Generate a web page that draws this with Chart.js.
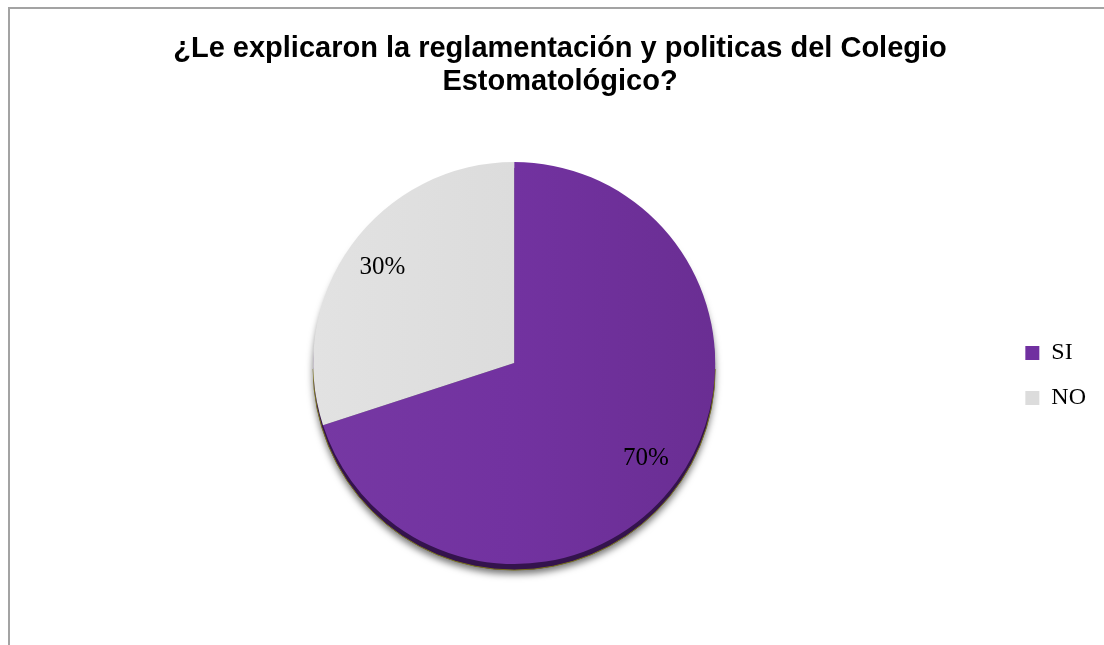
<!DOCTYPE html>
<html lang="es">
<head>
<meta charset="utf-8">
<title>Reglamentación y políticas del Colegio Estomatológico</title>
<script src="https://cdn.jsdelivr.net/npm/chart.js@4.4.1/dist/chart.umd.min.js"></script>
<style>
  html, body { margin: 0; padding: 0; background: #ffffff; overflow: hidden; }
  body { width: 1104px; height: 645px; position: relative; }
  #frame {
    position: absolute; left: 8px; top: 7px;
    width: 1110px; height: 650px;
    border-left: 2px solid #a3a3a3; border-top: 2px solid #a3a3a3;
    box-sizing: border-box;
  }
  #chart { position: absolute; left: 0; top: 0; }
</style>
</head>
<body>
<div id="frame"><canvas id="chart" width="1100" height="636"></canvas></div>
<script>
// Survey answers and their share of responses (percent)
const categories = ['SI', 'NO'];
const percentages = [70, 30];
const titleLines = ['¿Le explicaron la reglamentación y politicas del Colegio', 'Estomatológico?'];

const sliceColors = ['#7030A0', '#DCDCDC'];

// Soft left-to-right shading across the pie face
function sliceFill(context) {
  const i = context.dataIndex;
  const chart = context.chart;
  const area = chart.chartArea;
  if (!area) return sliceColors[i];
  const cx = (area.left + area.right) / 2;
  const r = 201;
  const g = chart.ctx.createLinearGradient(cx - r, 0, cx + r, 0);
  if (i === 0) {
    g.addColorStop(0, '#7638A3');
    g.addColorStop(0.5, '#7232A0');
    g.addColorStop(1, '#6A2E93');
  } else {
    g.addColorStop(0, '#E2E2E2');
    g.addColorStop(1, '#D6D6D6');
  }
  return g;
}

// Dark rim and drop shadow under the pie
const pieBase = {
  id: 'pieBase',
  beforeDatasetsDraw(chart) {
    const meta = chart.getDatasetMeta(0);
    const arc = meta.data[0];
    if (!arc) return;
    const {x, y, outerRadius} = arc.getProps(['x', 'y', 'outerRadius'], true);
    const ctx = chart.ctx;
    ctx.save();
    ctx.shadowColor = 'rgba(0,0,0,0.55)';
    ctx.shadowBlur = 7;
    ctx.shadowOffsetY = 4;
    ctx.beginPath();
    ctx.arc(x, y + 6, outerRadius, 0, Math.PI * 2);
    ctx.fillStyle = '#34134d';
    ctx.fill();
    ctx.restore();
    ctx.save();
    ctx.beginPath();
    ctx.arc(x, y + 6, outerRadius, 0, Math.PI);
    ctx.strokeStyle = '#77701c';
    ctx.lineWidth = 1;
    ctx.stroke();
    ctx.restore();
  }
};

// Percentage labels placed inside each slice
const sliceLabels = {
  id: 'sliceLabels',
  afterDatasetsDraw(chart) {
    const meta = chart.getDatasetMeta(0);
    const ctx = chart.ctx;
    ctx.save();
    ctx.font = '25px "Liberation Serif", "Times New Roman", serif';
    ctx.fillStyle = '#000000';
    ctx.textAlign = 'center';
    ctx.textBaseline = 'middle';
    meta.data.forEach((el, i) => {
      const {x, y, startAngle, endAngle, outerRadius} =
        el.getProps(['x', 'y', 'startAngle', 'endAngle', 'outerRadius'], true);
      const mid = (startAngle + endAngle) / 2;
      const d = outerRadius * 0.81;
      ctx.fillText(percentages[i] + '%', x + Math.cos(mid) * d, y + Math.sin(mid) * d);
    });
    ctx.restore();
  }
};

new Chart(document.getElementById('chart'), {
  type: 'pie',
  data: {
    labels: categories,
    datasets: [{
      data: percentages,
      backgroundColor: sliceFill,
      borderWidth: 0,
      hoverOffset: 0
    }]
  },
  options: {
    responsive: false,
    animation: false,
    devicePixelRatio: 1,
    radius: 201,
    layout: { padding: { left: 14, right: 14, top: 0, bottom: 77 } },
    plugins: {
      title: {
        display: true,
        text: titleLines,
        color: '#000000',
        font: { family: '"Liberation Sans", Arial, sans-serif', size: 29, weight: 'bold', lineHeight: 1.14 },
        padding: { top: 23, bottom: 60 }
      },
      legend: {
        position: 'right',
        fullSize: false,
        labels: {
          boxWidth: 14,
          boxHeight: 14,
          padding: 21,
          color: '#000000',
          font: { family: '"Liberation Serif", "Times New Roman", serif', size: 24 },
          generateLabels(chart) {
            return categories.map((c, i) => ({
              text: c,
              fillStyle: sliceColors[i],
              strokeStyle: sliceColors[i],
              fontColor: '#000000',
              lineWidth: 0,
              hidden: false,
              index: i
            }));
          }
        },
        title: { display: true, text: ' ', padding: 0, font: { size: 1, lineHeight: '25px' } }
      },
      tooltip: { enabled: false }
    }
  },
  plugins: [pieBase, sliceLabels]
});
</script>
</body>
</html>
